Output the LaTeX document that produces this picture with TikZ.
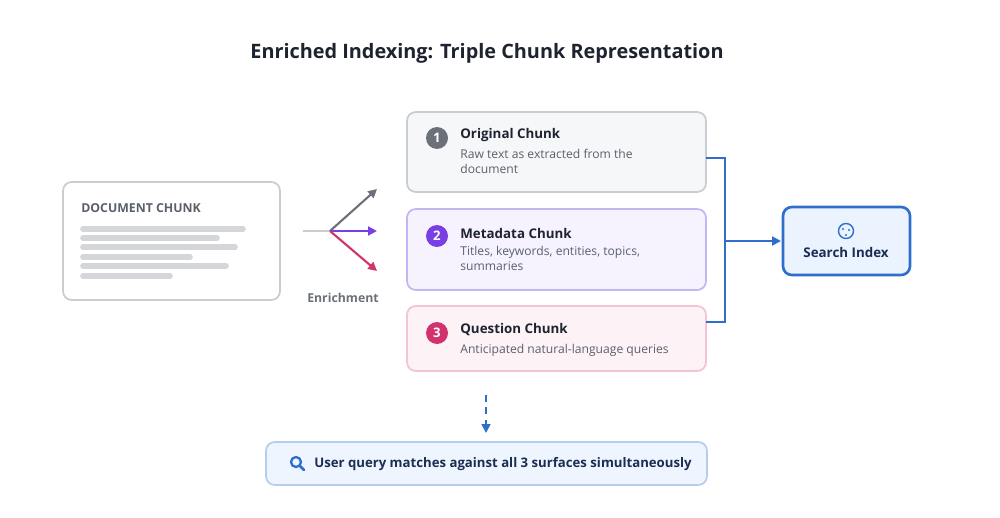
\documentclass[tikz,border=0pt]{standalone}
\usepackage{fontspec}
\setmainfont{Open Sans}
\usetikzlibrary{arrows.meta}
\hyphenpenalty=10000
\exhyphenpenalty=10000
\definecolor{grayb}{HTML}{C9CCD1}
\definecolor{graybg}{HTML}{F6F7F9}
\definecolor{purb}{HTML}{C4B5F5}
\definecolor{purbg}{HTML}{F6F3FE}
\definecolor{pinkb}{HTML}{F2C4D5}
\definecolor{pinkbg}{HTML}{FDF2F6}
\definecolor{blue}{HTML}{2F6FCB}
\definecolor{bluebg}{HTML}{EAF3FE}
\definecolor{dgray}{HTML}{6B7079}
\definecolor{purc}{HTML}{7A3FE4}
\definecolor{pinkc}{HTML}{D1336E}
\definecolor{txt}{HTML}{1E2330}
\definecolor{sub}{HTML}{5A606B}
\definecolor{navy}{HTML}{1A2D52}
\begin{document}
\begin{tikzpicture}[x=0.02cm,y=-0.02cm,
 box/.style={draw, rounded corners=5pt, line width=1pt},
 num/.style={circle, fill, minimum size=0.44cm, inner sep=0pt, text=white, font=\bfseries\fontsize{7.5}{9}\selectfont},
 ttl/.style={anchor=west, font=\bfseries\fontsize{7.6}{9}\selectfont, text=txt, inner sep=0pt},
 sb/.style={anchor=north west, font=\fontsize{6.9}{8.6}\selectfont, text=sub, inner sep=0pt, align=left},
 ar/.style={-{Triangle[length=5pt,width=5pt]}, line width=1.2pt}]
\useasboundingbox (0,0) rectangle (1000,517);
\node[font=\bfseries\fontsize{11.3}{13}\selectfont, text=txt] (title) at (487,53) {Enriched Indexing: Triple Chunk Representation};
% document chunk
\draw[box, draw=grayb, fill=white] (63,182) rectangle (280,300);
\node[anchor=west, font=\bfseries\scriptsize, text=sub, inner sep=0pt] (dc) at (81,208) {DOCUMENT CHUNK};
\foreach \y/\e in {229/243,238/217,247/235,257/190,266/226,276/170}
  \draw[line width=3.2pt, line cap=round, color=grayb!80] (83,\y) -- (\e,\y);
% enrichment
\coordinate (s) at (303,231); \coordinate (c) at (330,231);
\coordinate (e1) at (377,189); \coordinate (e2) at (377,231); \coordinate (e3) at (377,271);
\draw[line width=1.5pt, color=grayb] (s) -- (c);
\draw[ar, dgray] (c) -- (e1);
\draw[ar, purc] (c) -- (e2);
\draw[ar, pinkc] (c) -- (e3);
\node[font=\scriptsize\bfseries, text=dgray] (en) at (343,298) {Enrichment};
% boxes
\draw[box, draw=grayb, fill=graybg] (407,112) rectangle (706,192);
\draw[box, draw=purb, fill=purbg] (407,209) rectangle (706,290);
\draw[box, draw=pinkb, fill=pinkbg] (407,306) rectangle (706,371);
\node[num, fill=dgray] (n1) at (437,138) {1};
\node[num, fill=purc] (n2) at (437,236) {2};
\node[num, fill=pinkc] (n3) at (437,333) {3};
\node[ttl] (t1) at (460,135) {Original Chunk};
\node[sb] (s1) at (460,149) {Raw text as extracted from the\\document};
\node[ttl] (t2) at (460,233) {Metadata Chunk};
\node[sb] (s2) at (460,246) {Titles, keywords, entities, topics,\\summaries};
\node[ttl] (t3) at (460,330) {Question Chunk};
\node[sb] (s3) at (460,344) {Anticipated natural-language queries};
% connector
\coordinate (r1) at (706,158); \coordinate (r3) at (706,322);
\coordinate (m) at (725,241);
\draw[line width=1.5pt, blue] (r1) -- (725,158) -- (725,322) -- (r3);
\draw[box, draw=blue, fill=bluebg, line width=1.5pt] (783,207) rectangle (910,275);
\node[draw=blue, circle, line width=0.8pt, minimum size=0.3cm, inner sep=0pt] (ic) at (846,231) {};
\fill[blue] (843,229) circle (1.2) (849,230) circle (1.2) (846,235) circle (1.2);
\node[font=\bfseries\fontsize{7.6}{9}\selectfont, text=navy] (si) at (846,252) {Search Index};
\coordinate (sil) at (781,241);
\draw[ar, blue] (m) -- (sil);
% bottom
\coordinate (d1) at (486,395); \coordinate (d2) at (486,433);
\draw[ar, blue, dash pattern=on 4pt off 3pt, line width=1pt] (d1) -- (d2);
\draw[box, draw=blue!35, fill=bluebg!80] (266,442) rectangle (707,485);
\draw[blue, line width=1.3pt] (296,462) circle (5);
\draw[blue, line width=1.5pt, line cap=round] (300,466) -- (304,470);
\node[anchor=west, font=\bfseries\fontsize{7.5}{9}\selectfont, text=navy, inner sep=0pt] (q) at (314,464) {User query matches against all 3 surfaces simultaneously};
\end{tikzpicture}
\end{document}
